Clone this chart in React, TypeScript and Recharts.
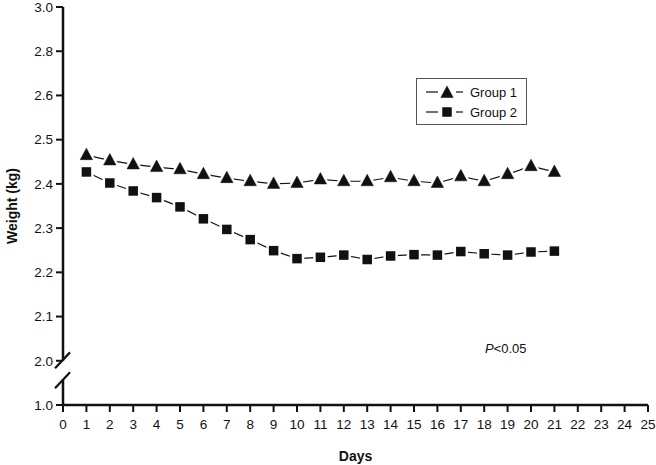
import React from 'react';
import { LineChart, Line, XAxis, YAxis, ReferenceLine } from 'recharts';

const days = [1, 2, 3, 4, 5, 6, 7, 8, 9, 10, 11, 12, 13, 14, 15, 16, 17, 18, 19, 20, 21];
const group1 = [2.465, 2.453, 2.444, 2.438, 2.433, 2.422, 2.413, 2.406, 2.4, 2.402, 2.41, 2.406, 2.406, 2.415, 2.406, 2.402, 2.417, 2.406, 2.422, 2.44, 2.427];
const group2 = [2.427, 2.402, 2.384, 2.369, 2.348, 2.321, 2.297, 2.274, 2.249, 2.231, 2.234, 2.239, 2.229, 2.237, 2.24, 2.239, 2.247, 2.242, 2.239, 2.246, 2.248];

// Internal y positions (linear axis) and the labels printed at them (broken axis)
const yTickValues = [1.9, 2.0, 2.1, 2.2, 2.3, 2.4, 2.5, 2.6, 2.7, 2.8];
const yTickLabels = ['1.0', '2.0', '2.1', '2.2', '2.3', '2.4', '2.5', '2.6', '2.8', '3.0'];
const xTicks = [0, 1, 2, 3, 4, 5, 6, 7, 8, 9, 10, 11, 12, 13, 14, 15, 16, 17, 18, 19, 20, 21, 22, 23, 24, 25];

const seriesNames = ['Group 1', 'Group 2'];

const data = days.map((d, i) => ({ day: d, g1: group1[i], g2: group2[i] }));

const FONT = '"Liberation Sans", Arial, sans-serif';
const INK = '#111';

const Triangle = (props: any) => {
  const { cx, cy } = props;
  if (cx == null || cy == null) return null;
  const pts = `${cx},${cy - 7} ${cx - 6.2},${cy + 4.5} ${cx + 6.2},${cy + 4.5}`;
  return (
    <g>
      <polygon points={pts} fill="#fff" stroke="#fff" strokeWidth={5} />
      <polygon points={pts} fill={INK} stroke={INK} strokeWidth={0.5} />
    </g>
  );
};

const Square = (props: any) => {
  const { cx, cy } = props;
  if (cx == null || cy == null) return null;
  const s = 9.5;
  return (
    <g>
      <rect x={cx - s / 2} y={cy - s / 2} width={s} height={s} fill="#fff" stroke="#fff" strokeWidth={5} />
      <rect x={cx - s / 2} y={cy - s / 2} width={s} height={s} fill={INK} />
    </g>
  );
};

const LegendBox = () => (
  <div
    style={{
      position: 'absolute',
      left: 416,
      top: 78,
      border: '1px solid #555',
      width: 111,
      height: 47,
      boxSizing: 'border-box',
      background: '#fff',
      fontFamily: FONT,
      fontSize: 13,
      color: INK,
      paddingTop: 3,
    }}
  >
    {seriesNames.map((name, i) => (
      <div key={name} style={{ display: 'flex', alignItems: 'center', height: 20 }}>
        <svg width={44} height={16} style={{ marginLeft: 7 }}>
          <line x1={2} y1={8} x2={14} y2={8} stroke={INK} strokeWidth={1.2} />
          <line x1={32} y1={8} x2={39} y2={8} stroke={INK} strokeWidth={1.2} />
          {i === 0 ? <Triangle cx={23} cy={9} /> : <Square cx={23} cy={8} />}
        </svg>
        <span style={{ marginLeft: 2 }}>{name}</span>
      </div>
    ))}
  </div>
);

export default function App() {
  return (
    <div style={{ position: 'absolute', left: 0, top: 0, width: 656, height: 465, background: '#fff' }}>
      <LineChart width={656} height={465} data={data} margin={{ top: 7, right: 8, bottom: 0, left: 0 }}>
        <XAxis
          dataKey="day"
          type="number"
          domain={[0, 25]}
          ticks={xTicks}
          interval={0}
          height={60}
          axisLine={{ stroke: INK, strokeWidth: 2.5 }}
          tickLine={{ stroke: INK, strokeWidth: 2 }}
          tickSize={7}
          tickMargin={7}
          tick={{ fill: INK, fontSize: 13.5, fontFamily: FONT }}
          label={{ value: 'Days', position: 'insideBottom', offset: 4, fill: INK, fontSize: 14, fontWeight: 'bold', fontFamily: FONT }}
        />
        <YAxis
          type="number"
          domain={[1.9, 2.8]}
          ticks={yTickValues}
          interval={0}
          width={63}
          axisLine={false}
          tickLine={{ stroke: INK, strokeWidth: 2 }}
          tickSize={7}
          tickMargin={3}
          tickFormatter={(v: number) => {
            const idx = yTickValues.findIndex((t) => Math.abs(t - v) < 1e-6);
            return idx >= 0 ? yTickLabels[idx] : '';
          }}
          tick={{ fill: INK, fontSize: 13.5, fontFamily: FONT }}
          label={{ value: 'Weight (kg)', angle: -90, position: 'insideLeft', offset: 12, fill: INK, fontSize: 14, fontWeight: 'bold', fontFamily: FONT, style: { textAnchor: 'middle' } }}
        />
        {/* broken y-axis line and break marks */}
        <ReferenceLine segment={[{ x: 0, y: 2.8 }, { x: 0, y: 2.0 }]} stroke={INK} strokeWidth={2.5} ifOverflow="visible" />
        <ReferenceLine segment={[{ x: 0, y: 1.957 }, { x: 0, y: 1.9 }]} stroke={INK} strokeWidth={2.5} ifOverflow="visible" />
        <ReferenceLine segment={[{ x: -0.34, y: 1.983 }, { x: 0.3, y: 2.019 }]} stroke={INK} strokeWidth={2.2} ifOverflow="visible" />
        <ReferenceLine segment={[{ x: -0.34, y: 1.938 }, { x: 0.3, y: 1.974 }]} stroke={INK} strokeWidth={2.2} ifOverflow="visible" />
        <Line
          dataKey="g1"
          name={seriesNames[0]}
          stroke={INK}
          strokeWidth={1.2}
          dot={<Triangle />}
          activeDot={false}
          isAnimationActive={false}
        />
        <Line
          dataKey="g2"
          name={seriesNames[1]}
          stroke={INK}
          strokeWidth={1.2}
          dot={<Square />}
          activeDot={false}
          isAnimationActive={false}
        />
      </LineChart>
      <LegendBox />
      <div
        style={{
          position: 'absolute',
          left: 485,
          top: 341,
          fontFamily: FONT,
          fontSize: 13,
          color: INK,
          whiteSpace: 'nowrap',
        }}
      >
        <i>P</i>&lt;0.05
      </div>
    </div>
  );
}
